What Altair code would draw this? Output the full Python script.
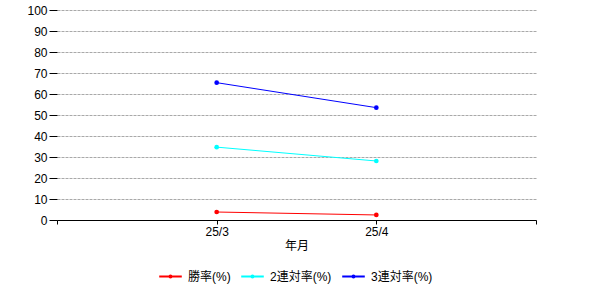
import altair as alt
import pandas as pd

months = ["25/3", "25/4"]
series_names = ["勝率(%)", "2連対率(%)", "3連対率(%)"]
win_rate = [3.8, 2.4]
top2_rate = [34.7, 28.1]
top3_rate = [65.4, 53.5]
colors = ["#FF0000", "#00FFFF", "#0000FF"]
y_ticks = list(range(0, 101, 10))

rows = []
for name, vals in zip(series_names, [win_rate, top2_rate, top3_rate]):
    for m, v in zip(months, vals):
        rows.append({"month": m, "series": name, "value": v})
df = pd.DataFrame(rows)

x_domain = ["_L"] + months + ["_R"]
font = "Liberation Sans, Arial, Noto Sans CJK JP"

legend_symbol = "M-1,0L1,0M0,-0.09A0.09,0.09,0,1,1,0,0.09A0.09,0.09,0,1,1,0,-0.09Z"

chart = alt.Chart(df).mark_line(
    strokeWidth=1,
    point=alt.OverlayMarkDef(filled=True, size=22, opacity=1),
).encode(
    x=alt.X(
        "month:O",
        scale=alt.Scale(type="point", domain=x_domain, padding=0),
        axis=alt.Axis(
            title="年月",
            labelExpr="indexof(datum.value, '_') == 0 ? '' : datum.value",
            labelAngle=0,
            domainColor="black",
            domainWidth=1,
            tickColor="black",
            tickSize=4,
            labelPadding=2,
            titlePadding=3,
            grid=False,
        ),
    ),
    y=alt.Y(
        "value:Q",
        scale=alt.Scale(domain=[0, 100], nice=False),
        axis=alt.Axis(
            title=None,
            values=y_ticks,
            domain=False,
            tickColor="black",
            tickSize=8,
            labelPadding=2,
            grid=True,
            gridColor="#A9A9A9",
            gridDash=[3, 1],
            gridWidth=1,
        ),
    ),
    color=alt.Color(
        "series:N",
        scale=alt.Scale(domain=series_names, range=colors),
        legend=alt.Legend(
            title=None,
            orient="none",
            direction="horizontal",
            legendX=101,
            legendY=254,
            gridAlign="none",
            symbolType=legend_symbol,
            symbolSize=510,
            symbolStrokeWidth=2,
            labelOffset=5,
            columnPadding=6,
            labelFontSize=12,
            labelFont=font,
            labelColor="black",
        ),
    ),
    order=alt.Order("month:O"),
).properties(
    width=479,
    height=210,
    autosize=alt.AutoSizeParams(type="none"),
    padding={"left": 57, "top": 10, "right": 64, "bottom": 80},
    background="white",
).configure_view(
    stroke=None
).configure_legend(
    gridAlign="none"
).configure_axis(
    labelFont=font,
    titleFont=font,
    labelFontSize=12,
    titleFontSize=12,
    titleFontWeight="normal",
    labelColor="black",
    titleColor="black",
)

chart.save("out.html", embed_options={"renderer": "svg", "actions": False})
